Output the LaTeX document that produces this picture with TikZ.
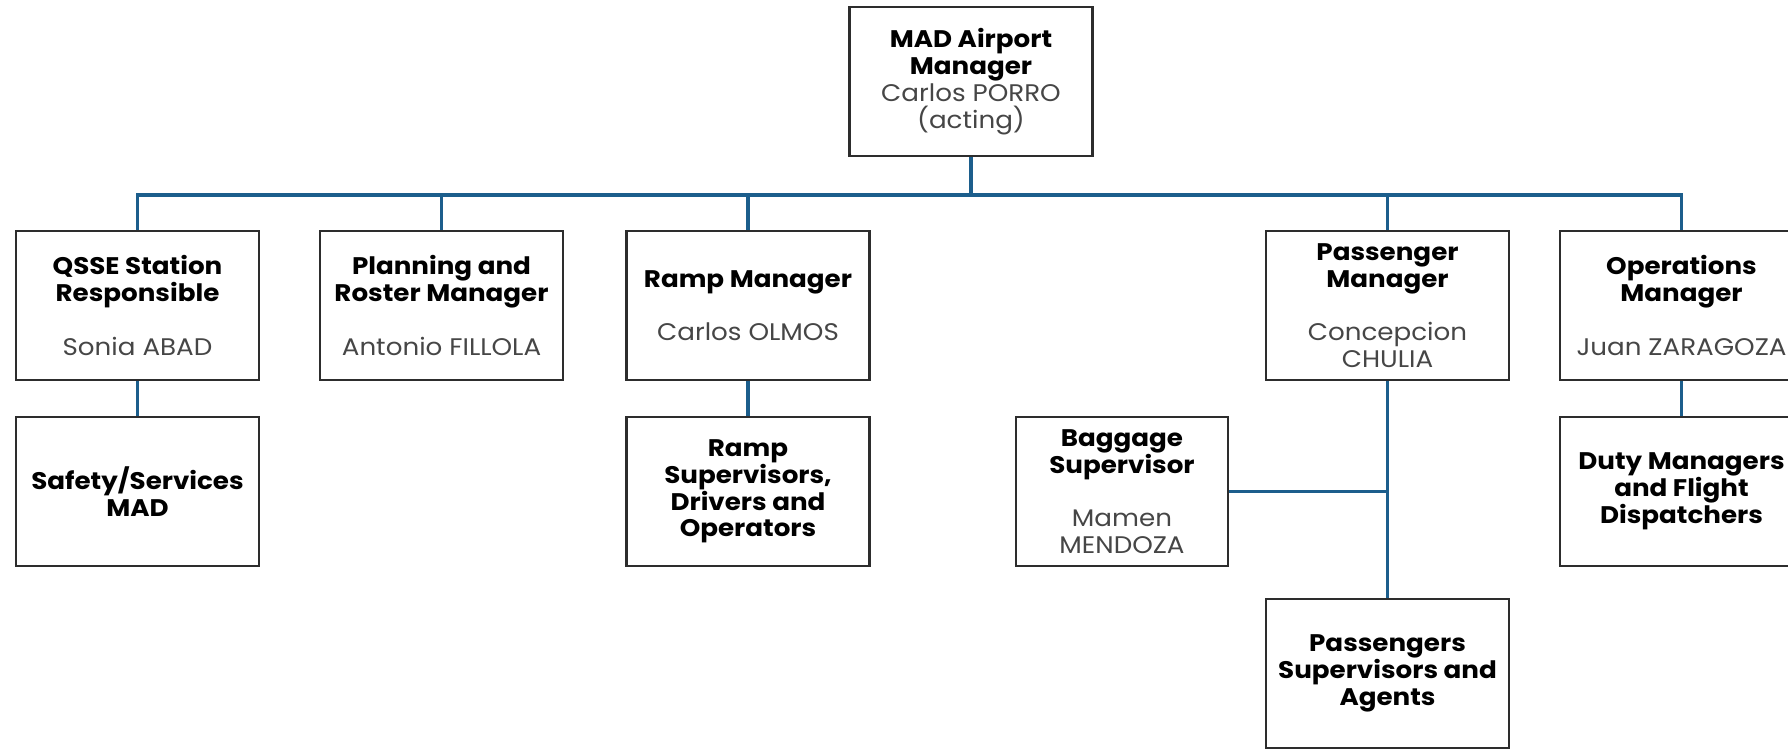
\documentclass[tikz,border=0pt]{standalone}
\usepackage{fontspec}
\setmainfont{Poppins}[FakeStretch=1.09]
\definecolor{linkblue}{RGB}{28,94,140}
\definecolor{boxline}{RGB}{45,45,45}
\definecolor{nametext}{RGB}{70,70,70}
\newcommand{\role}[1]{\textbf{#1}}
\newcommand{\who}[1]{\textcolor{nametext}{#1}}
\tikzset{
  unit/.style={draw=boxline, line width=1.1pt, fill=white, align=center,
    inner sep=2pt, minimum width=121.5pt, minimum height=74.5pt,
    text=black, font=\fontsize{12}{13.4}\selectfont},
  link/.style={draw=linkblue, line width=1.7pt},
}
\begin{document}
\begin{tikzpicture}[x=0.5pt, y=-0.5pt]
  \useasboundingbox (0,0) rectangle (1788,750);
  \clip (0,0) rectangle (1788,750);

  % head of the station
  \node[unit] (top) at (971,81.5)
    {\role{MAD Airport}\\\role{Manager}\\\who{Carlos PORRO}\\\who{(acting)}};

  % managers reporting to the head
  \node[unit] (qsse) at (137.5,305.5)
    {\role{QSSE Station}\\\role{Responsible}\\[13.4pt]\who{Sonia ABAD}};
  \node[unit] (plan) at (441.5,305.5)
    {\role{Planning and}\\\role{Roster Manager}\\[13.4pt]\who{Antonio FILLOLA}};
  \node[unit] (ramp) at (748,305.5)
    {\role{Ramp Manager}\\[13.4pt]\who{Carlos OLMOS}};
  \node[unit] (pass) at (1387.5,305.5)
    {\role{Passenger}\\\role{Manager}\\[13.4pt]\who{Concepcion}\\\who{CHULIA}};
  \node[unit] (ops) at (1681.5,305.5)
    {\role{Operations}\\\role{Manager}\\[13.4pt]\who{Juan ZARAGOZA}};

  % teams
  \node[unit] (safety) at (137.5,491.5) {\role{Safety/Services}\\\role{MAD}};
  \node[unit] (rampsup) at (748,491.5)
    {\role{Ramp}\\\role{Supervisors,}\\\role{Drivers and}\\\role{Operators}};
  \node[unit, minimum width=106pt] (bag) at (1122,491.5)
    {\role{Baggage}\\\role{Supervisor}\\[13.4pt]\who{Mamen}\\\who{MENDOZA}};
  \node[unit] (duty) at (1681.5,491.5)
    {\role{Duty Managers}\\\role{and Flight}\\\role{Dispatchers}};
  \node[unit] (paxsup) at (1387.5,673.5)
    {\role{Passengers}\\\role{Supervisors and}\\\role{Agents}};

  % reporting lines
  \foreach \c in {qsse,plan,ramp,pass,ops}
    \draw[link] (top.south) -- ++(0,38) -| (\c.north);
  \draw[link] (qsse.south) -- (safety.north);
  \draw[link] (ramp.south) -- (rampsup.north);
  \draw[link] (ops.south) -- (duty.north);
  \draw[link] (pass.south) -- (paxsup.north);
  \draw[link] (bag.east) -- (bag.east -| pass.south);
\end{tikzpicture}
\end{document}
